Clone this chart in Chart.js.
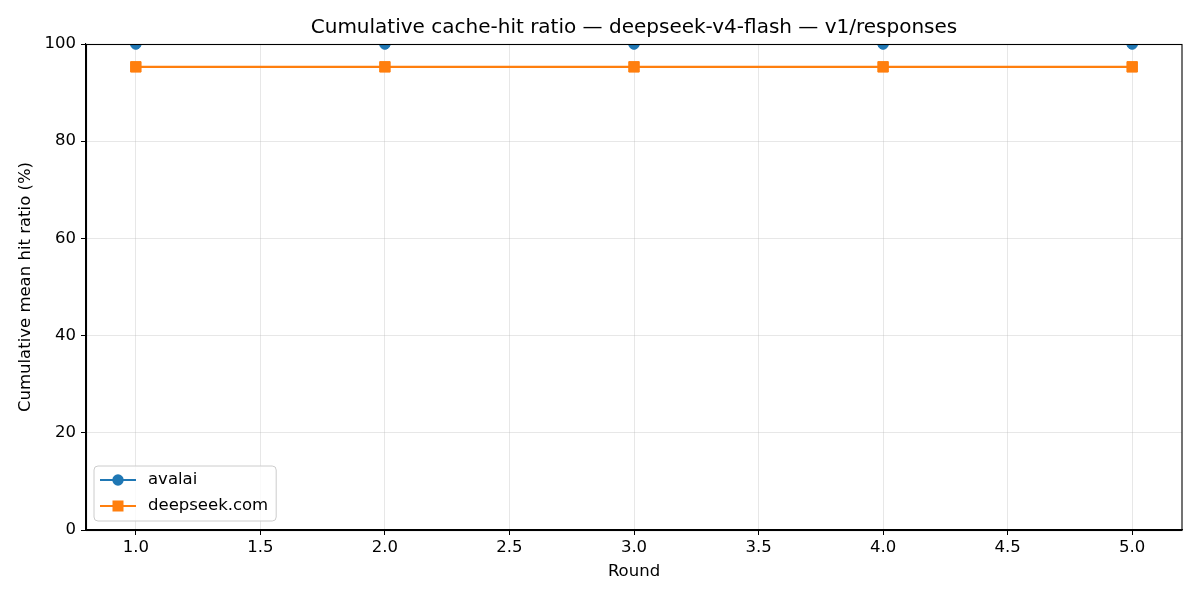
<!DOCTYPE html>
<html>
<head>
<meta charset="utf-8">
<script src="https://cdn.jsdelivr.net/npm/chart.js@4"></script>
<style>
html,body{margin:0;padding:0;background:#fff;}
#wrap{width:1200px;height:600px;}
</style>
</head>
<body>
<div id="wrap"><canvas id="c" width="1200" height="600"></canvas></div>
<script>
const rounds = [1, 2, 3, 4, 5];
const avalai = [100, 100, 100, 100, 100];
const deepseekCom = [95.3, 95.3, 95.3, 95.3, 95.3];
const seriesLabels = ['avalai', 'deepseek.com'];
const xTicks = [1.0, 1.5, 2.0, 2.5, 3.0, 3.5, 4.0, 4.5, 5.0];
const yTicks = [0, 20, 40, 60, 80, 100];
const titleText = 'Cumulative cache-hit ratio \u2014 deepseek-v4-flash \u2014 v1/responses';

const FONT = 'DejaVu Sans';
const BLUE = '#1f77b4', ORANGE = '#ff7f0e';
const TICK_FS = 16.5;

const framePlugin = {
  id: 'frame',
  afterDatasetsDraw(chart) {
    const {ctx, chartArea: a} = chart;
    ctx.save();
    ctx.strokeStyle = '#000';
    ctx.lineWidth = 1.1;
    ctx.strokeRect(Math.round(a.left)+0.5, Math.round(a.top)+0.5, Math.round(a.right-a.left)-0.5, Math.round(a.bottom-a.top));
    ctx.restore();
  },
  afterDraw(chart) {
    // legend inside plot, lower-left
    const {ctx, chartArea: a} = chart;
    const ds = chart.data.datasets;
    const x0 = a.left + 8, y1 = a.bottom - 9;
    const rowH = 26;
    const h = 55;
    const y0 = y1 - h;
    ctx.save();
    ctx.font = TICK_FS + 'px "' + FONT + '"';
    let maxW = 0;
    ds.forEach(d => { maxW = Math.max(maxW, ctx.measureText(d.label).width); });
    const w = 54 + maxW + 8;
    ctx.beginPath();
    const r = 4;
    ctx.moveTo(x0 + r, y0);
    ctx.arcTo(x0 + w, y0, x0 + w, y0 + h, r);
    ctx.arcTo(x0 + w, y0 + h, x0, y0 + h, r);
    ctx.arcTo(x0, y0 + h, x0, y0, r);
    ctx.arcTo(x0, y0, x0 + w, y0, r);
    ctx.closePath();
    ctx.fillStyle = 'rgba(255,255,255,0.8)';
    ctx.fill();
    ctx.strokeStyle = '#cccccc';
    ctx.lineWidth = 1;
    ctx.stroke();
    ds.forEach((d, i) => {
      const cy = y0 + 14 + i * rowH;
      ctx.strokeStyle = d.borderColor;
      ctx.lineWidth = 2.2;
      ctx.beginPath();
      ctx.moveTo(x0 + 6, cy);
      ctx.lineTo(x0 + 42, cy);
      ctx.stroke();
      ctx.fillStyle = d.backgroundColor;
      if (d.pointStyle === 'rect') {
        ctx.fillRect(x0 + 24 - 5.5, cy - 5.5, 11, 11);
      } else {
        ctx.beginPath();
        ctx.arc(x0 + 24, cy, 5.7, 0, Math.PI * 2);
        ctx.fill();
      }
      ctx.fillStyle = '#000';
      ctx.textBaseline = 'middle';
      ctx.textAlign = 'left';
      ctx.fillText(d.label, x0 + 54, cy);
    });
    ctx.restore();
  }
};

const toPts = (ys) => rounds.map((x, i) => ({x: x, y: ys[i]}));

new Chart(document.getElementById('c'), {
  type: 'line',
  data: {
    datasets: [
      {label: seriesLabels[0], data: toPts(avalai), borderColor: BLUE, backgroundColor: BLUE, clip: 0,
       borderWidth: 2.2, pointStyle: 'circle', pointRadius: 5.3, pointBorderWidth: 1, pointBorderColor: BLUE, pointHoverRadius: 5.3, tension: 0},
      {label: seriesLabels[1], data: toPts(deepseekCom), borderColor: ORANGE, backgroundColor: ORANGE, clip: 0,
       borderWidth: 2.2, pointStyle: 'rect', pointRadius: 7.4, pointBorderWidth: 1, pointBorderColor: ORANGE, pointHoverRadius: 7.4, tension: 0}
    ]
  },
  options: {
    responsive: false,
    animation: false,
    devicePixelRatio: 1,
    layout: {padding: {left: 0, right: 18, top: 0, bottom: 18}},
    plugins: {
      legend: {display: false},
      tooltip: {enabled: false},
      title: {display: true, fullSize: false, text: titleText, color: '#000',
        font: {family: FONT, size: 20, weight: 'normal'}, padding: {top: 16, bottom: 4}}
    },
    scales: {
      x: {
        type: 'linear', min: 0.8, max: 5.2,
        afterBuildTicks: (s) => { s.ticks = xTicks.map(v => ({value: v})); },
        afterFit: (s) => { s.height = 52; },
        ticks: {color: '#000', font: {family: FONT, size: TICK_FS}, padding: 3,
          maxRotation: 0, autoSkip: false, callback: (v) => Number(v).toFixed(1)},
        grid: {color: 'rgba(176,176,176,0.3)', lineWidth: 1, tickColor: '#000', tickLength: 5, drawTicks: true},
        border: {display: true, color: '#000', width: 1.1},
        title: {display: true, text: 'Round', color: '#000', font: {family: FONT, size: TICK_FS}, padding: {top: 0, bottom: 0}}
      },
      y: {
        type: 'linear', min: 0, max: 100,
        afterBuildTicks: (s) => { s.ticks = yTicks.map(v => ({value: v})); },
        afterFit: (s) => { s.width = 86; },
        ticks: {color: '#000', font: {family: FONT, size: TICK_FS}, padding: 5, callback: (v) => String(v)},
        grid: {color: 'rgba(176,176,176,0.3)', lineWidth: 1, tickColor: '#000', tickLength: 5, drawTicks: true},
        border: {display: true, color: '#000', width: 1.1},
        title: {display: true, text: 'Cumulative mean hit ratio (%)', color: '#000', font: {family: FONT, size: TICK_FS}, padding: {top: 16, bottom: 0}}
      }
    }
  },
  plugins: [framePlugin]
});
</script>
</body>
</html>
